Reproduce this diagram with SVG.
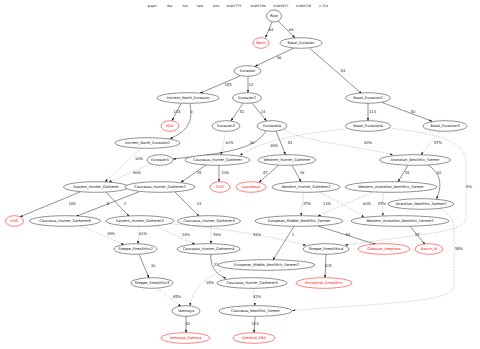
<svg xmlns="http://www.w3.org/2000/svg" width="480" height="349" viewBox="0 0 480 349">
<defs>
<marker id="ah" markerUnits="userSpaceOnUse" markerWidth="3" markerHeight="2.2" refX="2.8" refY="1.1" orient="auto">
<path d="M0,0 L3,1.1 L0,2.2 z" fill="#111"/>
</marker>
<style>
.n ellipse{fill:#fff;stroke:#222;stroke-width:0.5}
.n text{font-family:"DejaVu Sans",sans-serif;font-size:3.6px;fill:#111;text-anchor:middle}
.r ellipse{stroke:#f00}
.r text{fill:#f00}
.e path{fill:none;stroke:#222;stroke-width:0.5;marker-end:url(#ah)}
.e path.d{stroke:#777;stroke-dasharray:0.6 0.9}
.l text{font-family:"DejaVu Sans",sans-serif;font-size:3.7px;fill:#111;text-anchor:middle}
.h text{font-family:"DejaVu Sans",sans-serif;font-size:3.1px;fill:#111;text-anchor:middle}
</style>
</defs>
<rect width="480" height="349" fill="#fff"/>
<g class="h">
<text x="153" y="7">graph :</text>
<text x="170" y="7">Bar</text>
<text x="185" y="7">Gib</text>
<text x="200" y="7">Yam</text>
<text x="216" y="7">Arm</text>
<text x="233.5" y="7">-0.007775</text>
<text x="257.5" y="7">-0.005799</text>
<text x="281" y="7">0.003977</text>
<text x="303.5" y="7">0.000718</text>
<text x="323.5" y="7">2.754</text>
</g>
<g id="edges" class="e">
<path d="M272,22 L265.5,37.6"/>
<path d="M278,21 L295,37.8"/>
<path d="M294,48 L255,66.3"/>
<path d="M310,48.5 L361.5,93.5"/>
<path d="M240,76 L200,93.2"/>
<path d="M248,76.3 L248,92.6"/>
<path d="M181,103.6 L172,120.6"/>
<path d="M190,104 C193,120 189,131 170,138.5"/>
<path d="M243,103.2 L231,120.8"/>
<path d="M252,103.2 L266.5,120.8"/>
<path d="M368,103.3 L368,120.6"/>
<path d="M382,102.5 L432,121.2"/>
<path d="M266,131 C256,146 240,152 173,159"/>
<path d="M276,131 L285.5,154.7"/>
<path class="d" d="M226,131.3 L221,154.7"/>
<path class="d" d="M347,128.5 C300,134 262,140 240,155.5"/>
<path class="d" d="M284,129.5 C302,142 360,146 393,155"/>
<path class="d" d="M440,131.2 L421,154.8"/>
<path class="d" d="M389,128 C430,133 462,138 466,160 L466,218 C466,232 430,233 345,245"/>
<path class="d" d="M141,148.3 L105,181.8"/>
<path class="d" d="M151,164 L109,181.8"/>
<path d="M80,192 L20,216.8"/>
<path d="M139,191.8 L76,216.4"/>
<path d="M106,192.2 L129,216.2"/>
<path d="M206,165 L181,182.3"/>
<path d="M219,165.3 L219,181.6"/>
<path d="M279,165 L259,182.3"/>
<path d="M292,165.3 L301,181.8"/>
<path d="M408,165.3 L398,181.8"/>
<path d="M428,165.3 C440,172 443,185 436.5,198.8"/>
<path class="d" d="M304,192.3 L301,215.7"/>
<path class="d" d="M320,192 C335,200 350,208 364,217"/>
<path class="d" d="M372,192.2 C355,200 335,208 318,216.2"/>
<path class="d" d="M384,192.3 C382,200 382,208 383,215.9"/>
<path d="M175,192 L199,216.2"/>
<path class="d" d="M81,226 L124,244.6"/>
<path class="d" d="M139,226.3 L138,243.8"/>
<path class="d" d="M155,225.8 L195,244.2"/>
<path class="d" d="M211,226.3 L211,243.8"/>
<path class="d" d="M168,223.5 C220,228 270,236 306,245.3"/>
<path d="M294,226.3 L273,260"/>
<path d="M318,226 L376,244.5"/>
<path d="M410,226.2 L425,244.3"/>
<path d="M139,254.3 L149,277.8"/>
<path d="M211,254.3 C210,265 214,273 226,278.4"/>
<path d="M326,254.3 L325,277.8"/>
<path class="d" d="M157,288.2 L181,306.5"/>
<path class="d" d="M225,268.5 C205,278 192,290 190,305.7"/>
<path class="d" d="M253,288.3 L255,305.8"/>
<path class="d" d="M440,208.5 C452,215 454,222 454,232 L454,285 C454,302 400,302 292.5,310.5"/>
<path d="M186,316.3 L186,332.8"/>
<path d="M255,316.3 L254,332.8"/>
</g>
<g class="l">
<text x="271" y="30.5">64</text>
<text x="291" y="30.5">64</text>
<text x="279" y="59">36</text>
<text x="343" y="72">83</text>
<text x="228" y="86">155</text>
<text x="251" y="85.5">12</text>
<text x="177" y="113">115</text>
<text x="191.5" y="113">0</text>
<text x="242" y="113">51</text>
<text x="263" y="113">14</text>
<text x="372.5" y="113">113</text>
<text x="413" y="113">50</text>
<text x="252" y="144">30</text>
<text x="229.5" y="144">61%</text>
<text x="274" y="147">39%</text>
<text x="290" y="144">51</text>
<text x="368" y="144">43%</text>
<text x="438" y="144">57%</text>
<text x="469" y="188">9%</text>
<text x="139" y="160">10%</text>
<text x="137" y="174">90%</text>
<text x="199" y="174">25</text>
<text x="225" y="174">238</text>
<text x="265" y="174">47</text>
<text x="302" y="174">26</text>
<text x="407" y="174">15</text>
<text x="439" y="174">42</text>
<text x="72" y="205">188</text>
<text x="108" y="205">5</text>
<text x="125" y="205">2</text>
<text x="199" y="205">13</text>
<text x="307" y="205">37%</text>
<text x="327" y="205">13%</text>
<text x="367" y="205">63%</text>
<text x="382" y="205">87%</text>
<text x="111" y="235">39%</text>
<text x="143" y="235">61%</text>
<text x="186" y="236">24%</text>
<text x="217" y="236">76%</text>
<text x="257" y="236">91%</text>
<text x="293" y="236">1</text>
<text x="348" y="236">83</text>
<text x="417" y="236">17</text>
<text x="459" y="250">58%</text>
<text x="153" y="267">30</text>
<text x="216" y="266">22</text>
<text x="328" y="267">325</text>
<text x="210" y="284">15%</text>
<text x="177" y="298">85%</text>
<text x="257" y="298">42%</text>
<text x="188" y="325">42</text>
<text x="255" y="325">124</text>
</g>
<g id="Root" class="n"><ellipse cx="274" cy="16" rx="7.5" ry="6"/><text x="274" y="17.3">Root</text></g>
<g id="Mbuti" class="n r"><ellipse cx="261" cy="43" rx="8" ry="5.3"/><text x="261" y="44.3">Mbuti</text></g>
<g id="Basal_Eurasian" class="n"><ellipse cx="301" cy="43" rx="21" ry="5.3"/><text x="301" y="44.3">Basal_Eurasian</text></g>
<g id="Eurasian" class="n"><ellipse cx="247.5" cy="71" rx="13.5" ry="5.3"/><text x="247.5" y="72.3">Eurasian</text></g>
<g id="Ancient_North_Eurasian" class="n"><ellipse cx="188" cy="98" rx="31" ry="5.3"/><text x="188" y="99.3">Ancient_North_Eurasian</text></g>
<g id="Eurasian2" class="n"><ellipse cx="247" cy="98" rx="14.5" ry="5.3"/><text x="247" y="99.3">Eurasian2</text></g>
<g id="Basal_Eurasian2" class="n"><ellipse cx="368" cy="98" rx="22.5" ry="5.3"/><text x="368" y="99.3">Basal_Eurasian2</text></g>
<g id="MA1" class="n r"><ellipse cx="170" cy="126" rx="9" ry="5.3"/><text x="170" y="127.3">MA1</text></g>
<g id="Eurasian3" class="n"><ellipse cx="226" cy="126" rx="14" ry="5.3"/><text x="226" y="127.3">Eurasian3</text></g>
<g id="Eurasian4" class="n"><ellipse cx="272" cy="126" rx="15" ry="5.3"/><text x="272" y="127.3">Eurasian4</text></g>
<g id="Basal_Eurasian4" class="n"><ellipse cx="368" cy="126" rx="22.5" ry="5.3"/><text x="368" y="127.3">Basal_Eurasian4</text></g>
<g id="Basal_Eurasian3" class="n"><ellipse cx="445" cy="126" rx="22" ry="5.3"/><text x="445" y="127.3">Basal_Eurasian3</text></g>
<g id="Ancient_North_Eurasian2" class="n"><ellipse cx="147.5" cy="143" rx="32.5" ry="5.3"/><text x="147.5" y="144.3">Ancient_North_Eurasian2</text></g>
<g id="Eurasian5" class="n"><ellipse cx="160" cy="160" rx="13" ry="5.3"/><text x="160" y="161.3">Eurasian5</text></g>
<g id="Caucasus_Hunter_Gatherer" class="n"><ellipse cx="217.5" cy="160" rx="32.5" ry="5.3"/><text x="217.5" y="161.3">Caucasus_Hunter_Gatherer</text></g>
<g id="Western_Hunter_Gatherer" class="n"><ellipse cx="287" cy="160" rx="29" ry="5.3"/><text x="287" y="161.3">Western_Hunter_Gatherer</text></g>
<g id="Anatolian_Neolithic_Farmer" class="n"><ellipse cx="415" cy="160" rx="35.5" ry="5.3"/><text x="415" y="161.3">Anatolian_Neolithic_Farmer</text></g>
<g id="Eastern_Hunter_Gatherer" class="n"><ellipse cx="96" cy="187" rx="32.5" ry="5.3"/><text x="96" y="188.3">Eastern_Hunter_Gatherer</text></g>
<g id="Caucasus_Hunter_Gatherer2" class="n"><ellipse cx="160" cy="187" rx="35" ry="5.3"/><text x="160" y="188.3">Caucasus_Hunter_Gatherer2</text></g>
<g id="CHG" class="n r"><ellipse cx="220" cy="187" rx="10" ry="5.3"/><text x="220" y="188.3">CHG</text></g>
<g id="Loschbour" class="n r"><ellipse cx="251" cy="187" rx="15" ry="5.3"/><text x="251" y="188.3">Loschbour</text></g>
<g id="Western_Hunter_Gatherer2" class="n"><ellipse cx="306" cy="187" rx="34" ry="5.3"/><text x="306" y="188.3">Western_Hunter_Gatherer2</text></g>
<g id="Western_Anatolian_Neolithic_Farmer" class="n"><ellipse cx="391" cy="187" rx="46" ry="5.3"/><text x="391" y="188.3">Western_Anatolian_Neolithic_Farmer</text></g>
<g id="Anatolian_Neolithic_Farmer2" class="n"><ellipse cx="421" cy="204" rx="33" ry="5.3"/><text x="421" y="205.3">Anatolian_Neolithic_Farmer2</text></g>
<g id="EHG" class="n r"><ellipse cx="14.5" cy="221" rx="9" ry="5.3"/><text x="14.5" y="222.3">EHG</text></g>
<g id="Caucasus_Hunter_Gatherer6" class="n"><ellipse cx="65" cy="221" rx="35.5" ry="5.3"/><text x="65" y="222.3">Caucasus_Hunter_Gatherer6</text></g>
<g id="Eastern_Hunter_Gatherer2" class="n"><ellipse cx="140" cy="221" rx="34" ry="5.3"/><text x="140" y="222.3">Eastern_Hunter_Gatherer2</text></g>
<g id="Caucasus_Hunter_Gatherer3" class="n"><ellipse cx="209" cy="221" rx="31.5" ry="5.3"/><text x="209" y="222.3">Caucasus_Hunter_Gatherer3</text></g>
<g id="European_Middle_Neolithic_Farmer" class="n"><ellipse cx="299" cy="221" rx="44" ry="5.3"/><text x="299" y="222.3">European_Middle_Neolithic_Farmer</text></g>
<g id="Western_Anatolian_Neolithic_Farmer2" class="n"><ellipse cx="400" cy="221" rx="49" ry="5.3"/><text x="400" y="222.3">Western_Anatolian_Neolithic_Farmer2</text></g>
<g id="Steppe_Eneolithic2" class="n"><ellipse cx="135.5" cy="249" rx="21.5" ry="5.3"/><text x="135.5" y="250.3">Steppe_Eneolithic2</text></g>
<g id="Caucasus_Hunter_Gatherer4" class="n"><ellipse cx="208.5" cy="249" rx="31.5" ry="5.3"/><text x="208.5" y="250.3">Caucasus_Hunter_Gatherer4</text></g>
<g id="Steppe_Eneolithic4" class="n"><ellipse cx="326" cy="249" rx="23" ry="5.3"/><text x="326" y="250.3">Steppe_Eneolithic4</text></g>
<g id="Globular_Amphora" class="n r"><ellipse cx="384" cy="249" rx="26" ry="5.3"/><text x="384" y="250.3">Globular_Amphora</text></g>
<g id="Barcin_N" class="n r"><ellipse cx="429" cy="249" rx="14" ry="5.3"/><text x="429" y="250.3">Barcin_N</text></g>
<g id="European_Middle_Neolithic_Farmer2" class="n"><ellipse cx="266.5" cy="265" rx="48.5" ry="5.3"/><text x="266.5" y="266.3">European_Middle_Neolithic_Farmer2</text></g>
<g id="Steppe_Eneolithic3" class="n"><ellipse cx="152" cy="283" rx="21" ry="5.3"/><text x="152" y="284.3">Steppe_Eneolithic3</text></g>
<g id="Caucasus_Hunter_Gatherer5" class="n"><ellipse cx="252" cy="283" rx="35" ry="5.3"/><text x="252" y="284.3">Caucasus_Hunter_Gatherer5</text></g>
<g id="Khvalynsk_Eneolithic" class="n r"><ellipse cx="324" cy="283" rx="28" ry="5.3"/><text x="324" y="284.3">Khvalynsk_Eneolithic</text></g>
<g id="Yamnaya" class="n"><ellipse cx="186" cy="311" rx="14" ry="5.3"/><text x="186" y="312.3">Yamnaya</text></g>
<g id="Caucasus_Neolithic_Farmer" class="n"><ellipse cx="255.5" cy="311" rx="36.5" ry="5.3"/><text x="255.5" y="312.3">Caucasus_Neolithic_Farmer</text></g>
<g id="Yamnaya_Samara" class="n r"><ellipse cx="185.5" cy="338" rx="24.5" ry="5.3"/><text x="185.5" y="339.3">Yamnaya_Samara</text></g>
<g id="Armenia_EBA" class="n r"><ellipse cx="254" cy="338" rx="21" ry="5.3"/><text x="254" y="339.3">Armenia_EBA</text></g>
</svg>
